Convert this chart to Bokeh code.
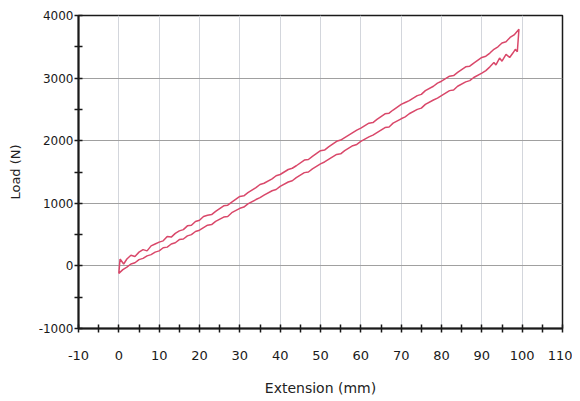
from bokeh.plotting import figure
from bokeh.models import FixedTicker, Range1d, CustomJSTickFormatter
from bokeh.embed import file_html
from bokeh.resources import INLINE

# Loading branch (upper curve), from the start spike to the apex
upper_x = [0.3, 1.2, 2, 3, 4, 5, 6, 7, 8, 9, 10, 11, 12, 13, 14, 15, 16, 17, 18, 19, 20,
           21, 22, 23, 24, 26, 27, 28, 30, 31, 32, 34, 35, 36, 38, 39, 40, 42, 43, 44, 46, 47, 48, 50,
           51, 52, 54, 55, 56, 58, 59, 60, 62, 63, 64, 66, 67, 68, 70, 71, 72, 74, 75, 76, 78, 79, 80,
           82, 83, 84, 86, 87, 88, 90, 91, 92, 93, 94, 95, 96, 97, 98, 99.2]
upper_y = [110, 30, 110, 170, 150, 220, 260, 240, 320, 350, 380, 400, 470, 460, 520, 560, 580, 640, 650, 710, 730,
           790, 810, 820, 870, 960, 970, 1020, 1110, 1120, 1170, 1250, 1300, 1320, 1390, 1440, 1460, 1540, 1560, 1600, 1690, 1700, 1750, 1840,
           1850, 1900, 1990, 2010, 2050, 2130, 2170, 2200, 2280, 2290, 2340, 2430, 2440, 2490, 2580, 2610, 2640, 2720, 2740, 2800, 2870, 2920, 2950,
           3030, 3040, 3090, 3180, 3190, 3240, 3330, 3350, 3400, 3460, 3500, 3560, 3580, 3650, 3690, 3780]

# Unloading branch (lower curve), from the origin to the jagged end near the apex
lower_x = [0, 1, 2, 3, 4, 5, 6, 7, 8, 9, 10, 11, 12, 13, 14, 15, 16, 17, 18, 19, 20,
           22, 23, 24, 26, 27, 28, 30, 31, 32, 34, 35, 36, 38, 39, 40, 42, 43, 44, 46, 47, 48, 50,
           51, 52, 54, 55, 56, 58, 59, 60, 62, 63, 64, 66, 67, 68, 70, 71, 72, 74, 75, 76, 78, 79, 80,
           82, 83, 84, 86, 87, 88, 90, 91, 92, 93, 93.5, 94.4, 95, 96, 96.9, 97.7, 98.3, 98.8]
lower_y = [-120, -60, -20, 30, 50, 100, 120, 160, 180, 220, 240, 290, 300, 350, 370, 420, 430, 480, 500, 550, 570,
           650, 660, 710, 780, 790, 850, 920, 940, 990, 1060, 1090, 1130, 1200, 1220, 1270, 1340, 1360, 1410, 1490, 1500, 1550, 1630,
           1660, 1700, 1780, 1790, 1840, 1920, 1940, 1990, 2060, 2090, 2130, 2210, 2220, 2280, 2350, 2380, 2430, 2500, 2520, 2580, 2650, 2680, 2720,
           2800, 2810, 2870, 2940, 2960, 3010, 3080, 3120, 3180, 3250, 3210, 3320, 3270, 3380, 3330, 3400, 3460, 3420]

x_ticks = [-10, 0, 10, 20, 30, 40, 50, 60, 70, 80, 90, 100, 110]
x_minor = [-5, 5, 15, 25, 35, 45, 55, 65, 75, 85, 95, 105]
y_ticks = [-1000, 0, 1000, 2000, 3000, 4000]
y_minor = [-500, 500, 1500, 2500, 3500]

loop_x = upper_x + lower_x[::-1] + [upper_x[0]]
loop_y = upper_y + lower_y[::-1] + [upper_y[0]]

p = figure(width=572, height=398, x_range=Range1d(-10, 110), y_range=Range1d(-1000, 4000),
           output_backend="svg", toolbar_location=None,
           min_border_left=78, min_border_right=10, min_border_top=15, min_border_bottom=68)

p.line(loop_x, loop_y, line_color="#d9486a", line_width=1.5)

p.xaxis.ticker = FixedTicker(ticks=x_ticks, minor_ticks=x_minor)
p.yaxis.ticker = FixedTicker(ticks=y_ticks, minor_ticks=y_minor)
fmt = "return tick.toFixed(0);"
p.xaxis.formatter = CustomJSTickFormatter(code=fmt)
p.yaxis.formatter = CustomJSTickFormatter(code=fmt)

for ax in (p.xaxis[0], p.yaxis[0]):
    ax.axis_line_color = "#1a1a1a"
    ax.axis_line_width = 2
    ax.major_tick_line_color = "#1a1a1a"
    ax.minor_tick_line_color = "#1a1a1a"
    ax.major_tick_line_width = 1.5
    ax.minor_tick_line_width = 1.5
    ax.major_tick_in = 4
    ax.major_tick_out = 4
    ax.minor_tick_in = 4
    ax.minor_tick_out = 4
    ax.major_label_text_color = "#1a1a1a"
    ax.major_label_text_font = "DejaVu Sans"
    ax.axis_label_text_font = "DejaVu Sans"
    ax.axis_label_text_font_style = "normal"
    ax.axis_label_text_color = "#222222"

p.xaxis.major_label_text_font_size = "13px"
p.xaxis.major_label_standoff = 18
p.xaxis.axis_label = "Extension (mm)"
p.xaxis.axis_label_text_font_size = "14px"
p.xaxis.axis_label_standoff = 17

p.yaxis.major_label_text_font_size = "12px"
p.yaxis.major_label_standoff = 1
p.yaxis.axis_label = "Load (N)"
p.yaxis.axis_label_text_font_size = "13px"
p.yaxis.axis_label_standoff = 13

p.xgrid.grid_line_color = "#d3d6dc"
p.xgrid.grid_line_width = 1
p.ygrid.grid_line_color = "#a0a0a0"
p.ygrid.grid_line_width = 1

p.outline_line_color = "#1a1a1a"
p.outline_line_width = 1.5
p.outline_line_alpha = 1
p.background_fill_color = "white"
p.border_fill_color = "white"

open("out.html", "w").write(file_html(p, INLINE))
